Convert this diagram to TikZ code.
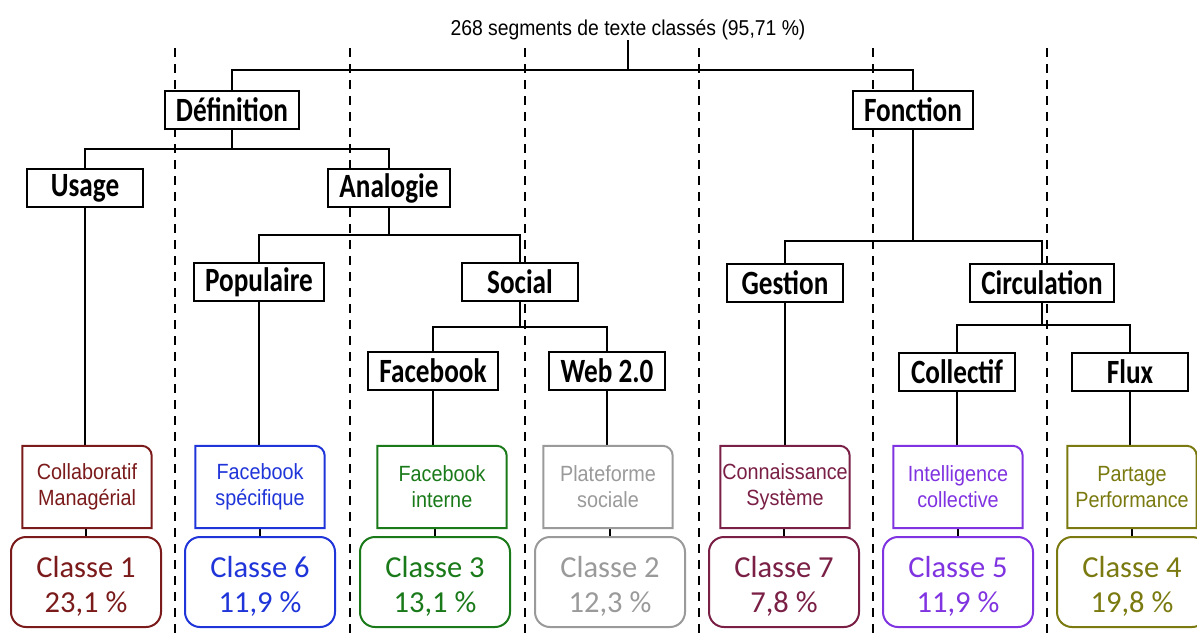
\documentclass[tikz,border=0pt]{standalone}
\usepackage{fontspec}
\usetikzlibrary{backgrounds}
\newfontfamily\treefont[FakeStretch=0.8]{Carlito}
\newfontfamily\clsfont{Carlito}
\newfontfamily\labfont[FakeStretch=0.9]{Liberation Sans}
\definecolor{c1}{HTML}{7B1A1A}
\definecolor{c6}{HTML}{1F35D9}
\definecolor{c3}{HTML}{1A7A1A}
\definecolor{c2}{HTML}{9A9A9A}
\definecolor{c7}{HTML}{7A1F45}
\definecolor{c5}{HTML}{8033E0}
\definecolor{c4}{HTML}{7A7A10}
\newcommand\labbox[2]{\draw[#2, line width=2pt, fill=white] (#1.south west) -- (#1.north west) -- ([xshift=-10pt]#1.north east) arc[start angle=90,end angle=0,radius=10pt] -- (#1.south east) -- cycle;}
\tikzset{
  treebox/.style={draw, fill=white, line width=2pt, font=\treefont\bfseries\fontsize{34}{38}\selectfont, minimum height=38pt, minimum width=116pt, inner xsep=11pt, inner ysep=0pt},
  labnode/.style={minimum width=129pt, minimum height=82pt, inner sep=0pt, align=center, font=\labfont\fontsize{22}{26}\selectfont},
  clsbox/.style={draw, fill=white, rounded corners=15pt, line width=2pt, minimum width=150pt, minimum height=90pt, inner sep=0pt, align=center, font=\clsfont\fontsize{30.5}{35}\selectfont},
  clstext/.style={inner sep=0pt, align=center, font=\clsfont\fontsize{30.5}{35}\selectfont},
  conn/.style={line width=2pt},
  sep/.style={line width=2pt, dash pattern=on 9pt off 7pt}
}
\begin{document}
\begin{tikzpicture}[x=1pt,y=1pt]
\useasboundingbox (0,0) rectangle (1197,-633);
% title
\node[font=\labfont\fontsize{21.5}{25}\selectfont, inner sep=0pt] (title) at (628,-30) {268 segments de texte classés (95,71~\%)};
% tree nodes
\node[treebox] (def) at (232,-110) {Définition};
\node[treebox] (fon) at (913,-110) {Fonction};
\node[treebox] (usage) at (85,-188) {Usage};
\node[treebox] (ana) at (389,-188) {Analogie};
\node[treebox] (pop) at (259,-282) {Populaire};
\node[treebox] (soc) at (520,-282) {Social};
\node[treebox] (fb) at (433,-371) {Facebook};
\node[treebox] (web) at (607,-371) {Web 2.0};
\node[treebox] (gest) at (785,-283) {Gestion};
\node[treebox] (circ) at (1042,-283) {Circulation};
\node[treebox] (coll) at (957,-372) {Collectif};
\node[treebox] (flux) at (1130,-372) {Flux};
% label boxes
\node[labnode] (L1) at (87,-487) {};
\node[labnode] (L6) at (260,-487) {};
\node[labnode] (L3) at (442,-487) {};
\node[labnode] (L2) at (608,-487) {};
\node[labnode] (L7) at (785,-487) {};
\node[labnode] (L5) at (958,-487) {};
\node[labnode] (L4) at (1132,-487) {};
\labbox{L1}{c1}\labbox{L6}{c6}\labbox{L3}{c3}\labbox{L2}{c2}\labbox{L7}{c7}\labbox{L5}{c5}\labbox{L4}{c4}
\node[labnode, text=c1] at (L1) {Collaboratif\\Managérial};
\node[labnode, text=c6] at (L6) {Facebook\\spécifique};
\node[labnode, text=c3] at (L3) {Facebook\\interne};
\node[labnode, text=c2] at (L2) {Plateforme\\sociale};
\node[labnode, text=c7] at (L7) {Connaissance\\Système};
\node[labnode, text=c5] at (L5) {Intelligence\\collective};
\node[labnode, text=c4] at (L4) {Partage\\Performance};
% class boxes
\node[clsbox, draw=c1] (K1) at (86,-582) {};
\node[clsbox, draw=c6] (K6) at (260,-582) {};
\node[clsbox, draw=c3] (K3) at (435,-582) {};
\node[clsbox, draw=c2] (K2) at (610,-582) {};
\node[clsbox, draw=c7] (K7) at (784,-582) {};
\node[clsbox, draw=c5] (K5) at (958,-582) {};
\node[clsbox, draw=c4] (K4) at (1132,-582) {};
\node[clstext, text=c1] at ([yshift=-4pt]K1.center) {Classe 1\\23,1 \%};
\node[clstext, text=c6] at ([yshift=-4pt]K6.center) {Classe 6\\11,9 \%};
\node[clstext, text=c3] at ([yshift=-4pt]K3.center) {Classe 3\\13,1 \%};
\node[clstext, text=c2] at ([yshift=-4pt]K2.center) {Classe 2\\12,3 \%};
\node[clstext, text=c7] at ([yshift=-4pt]K7.center) {Classe 7\\7,8 \%};
\node[clstext, text=c5] at ([yshift=-4pt]K5.center) {Classe 5\\11,9 \%};
\node[clstext, text=c4] at ([yshift=-4pt]K4.center) {Classe 4\\19,8 \%};
% junction levels
\coordinate (y0) at (0,-70);
\coordinate (y1) at (0,-149);
\coordinate (y2) at (0,-235);
\coordinate (y3) at (0,-327);
\coordinate (y4) at (0,-241);
\coordinate (y5) at (0,-325);
\begin{scope}[on background layer]
\foreach \x in {175,350,525,699,873,1047}
  \draw[sep] (\x,-48) -- (\x,-640);
\draw[conn] (title.south) -- (title.south |- y0);
\draw[conn] (def.north) -- (def.north |- y0) -- (fon.north |- y0) -- (fon.north);
\draw[conn] (def.south) -- (def.south |- y1);
\draw[conn] (usage.north) -- (usage.north |- y1) -- (ana.north |- y1) -- (ana.north);
\draw[conn] (ana.south) -- (ana.south |- y2);
\draw[conn] (pop.north) -- (pop.north |- y2) -- (soc.north |- y2) -- (soc.north);
\draw[conn] (soc.south) -- (soc.south |- y3);
\draw[conn] (fb.north) -- (fb.north |- y3) -- (web.north |- y3) -- (web.north);
\draw[conn] (fon.south) -- (fon.south |- y4);
\draw[conn] (gest.north) -- (gest.north |- y4) -- (circ.north |- y4) -- (circ.north);
\draw[conn] (circ.south) -- (circ.south |- y5);
\draw[conn] (coll.north) -- (coll.north |- y5) -- (flux.north |- y5) -- (flux.north);
% leaves to labels
\draw[conn] (usage.south) -- (usage.south |- L1.north);
\draw[conn] (pop.south) -- (pop.south |- L6.north);
\draw[conn] (fb.south) -- (fb.south |- L3.north);
\draw[conn] (web.south) -- (web.south |- L2.north);
\draw[conn] (gest.south) -- (gest.south |- L7.north);
\draw[conn] (coll.south) -- (coll.south |- L5.north);
\draw[conn] (flux.south) -- (flux.south |- L4.north);
% labels to classes
\draw[conn] (K1.north) -- (K1.north |- L1.south);
\draw[conn] (K6.north) -- (K6.north |- L6.south);
\draw[conn] (K3.north) -- (K3.north |- L3.south);
\draw[conn] (K2.north) -- (K2.north |- L2.south);
\draw[conn] (K7.north) -- (K7.north |- L7.south);
\draw[conn] (K5.north) -- (K5.north |- L5.south);
\draw[conn] (K4.north) -- (K4.north |- L4.south);
\end{scope}
\end{tikzpicture}
\end{document}
